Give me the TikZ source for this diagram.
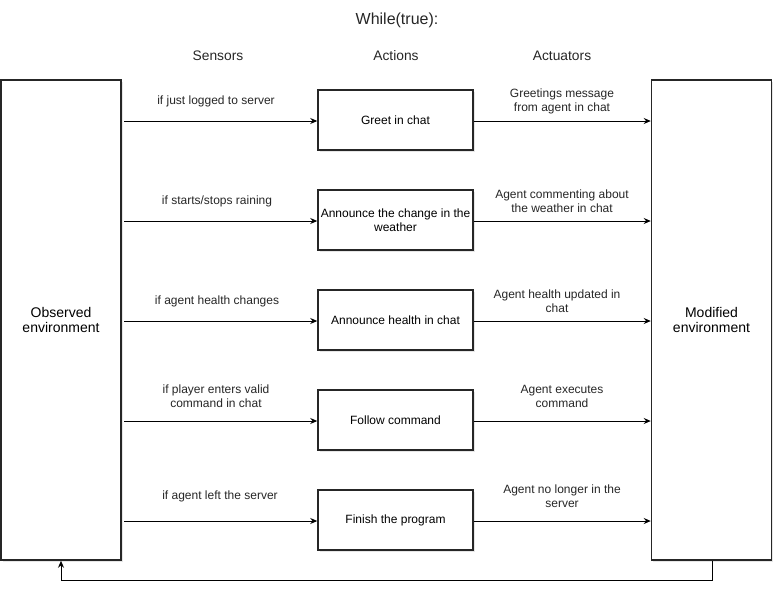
\documentclass[tikz,border=0pt]{standalone}
\usepackage{fontspec}
\setmainfont{Liberation Sans}
\usetikzlibrary{arrows.meta,shadows}
\begin{document}
\begin{tikzpicture}[x=1pt,y=-1pt,
  box/.style={draw=black!85,line width=1.5pt,fill=white,inner sep=0pt,
    drop shadow={opacity=0.2,shadow xshift=1.5pt,shadow yshift=-1.5pt}},
  act/.style={box,minimum width=155pt,minimum height=60pt,align=center,font=\fontsize{12}{14}\selectfont},
  env/.style={box,minimum width=120pt,minimum height=480pt,align=center,font=\fontsize{14}{15.5}\selectfont},
  lbl/.style={font=\fontsize{12}{14}\selectfont,align=center,text=black!85},
  hdr/.style={font=\fontsize{13.8}{15}\selectfont,text=black!85},
  arr/.style={draw=black,line width=1pt,-{Stealth[length=7pt,width=6pt]}}]
\useasboundingbox (0,0) rectangle (783,600);
\node[hdr,font=\fontsize{16}{18}\selectfont] (title) at (397,20) {While(true):};
\node[hdr] (hs) at (218,56) {Sensors};
\node[hdr] (ha) at (396,56) {Actions};
\node[hdr] (hu) at (562,56) {Actuators};
\node[env] (obs) at (61,320) {Observed\\environment};
\node[env] (mod) at (711.5,320) {Modified\\environment};
\node[act] (a1) at (395.5,120) {Greet in chat};
\node[act] (a2) at (395.5,220) {Announce the change in the\\weather};
\node[act] (a3) at (395.5,320) {Announce health in chat};
\node[act] (a4) at (395.5,420) {Follow command};
\node[act] (a5) at (395.5,520) {Finish the program};
\foreach \i/\y in {1/121,2/221,3/321,4/421,5/521}{
  \coordinate (s\i) at (124,\y);
  \draw[arr] (s\i) -- (a\i.west |- s\i);
  \draw[arr] (a\i.east |- s\i) -- (mod.west |- s\i);
}
\node[lbl] (l1) at (216,101) {if just logged to server};
\node[lbl] (l2) at (217,201) {if starts/stops raining};
\node[lbl] (l3) at (217,301) {if agent health changes};
\node[lbl] (l4) at (216,396) {if player enters valid\\command in chat};
\node[lbl] (l5) at (220,496) {if agent left the server};
\node[lbl] (r1) at (562,101) {Greetings message\\from agent in chat};
\node[lbl] (r2) at (562,201) {Agent commenting about\\the weather in chat};
\node[lbl] (r3) at (557,301) {Agent health updated in\\chat};
\node[lbl] (r4) at (562,396) {Agent executes\\command};
\node[lbl] (r5) at (562,496) {Agent no longer in the\\server};
\coordinate (f1) at (712,580);
\coordinate (f2) at (61,580);
\draw[arr] (mod.south -| f1) -- (f1) -- (f2) -- (obs.south -| f2);
\end{tikzpicture}
\end{document}
